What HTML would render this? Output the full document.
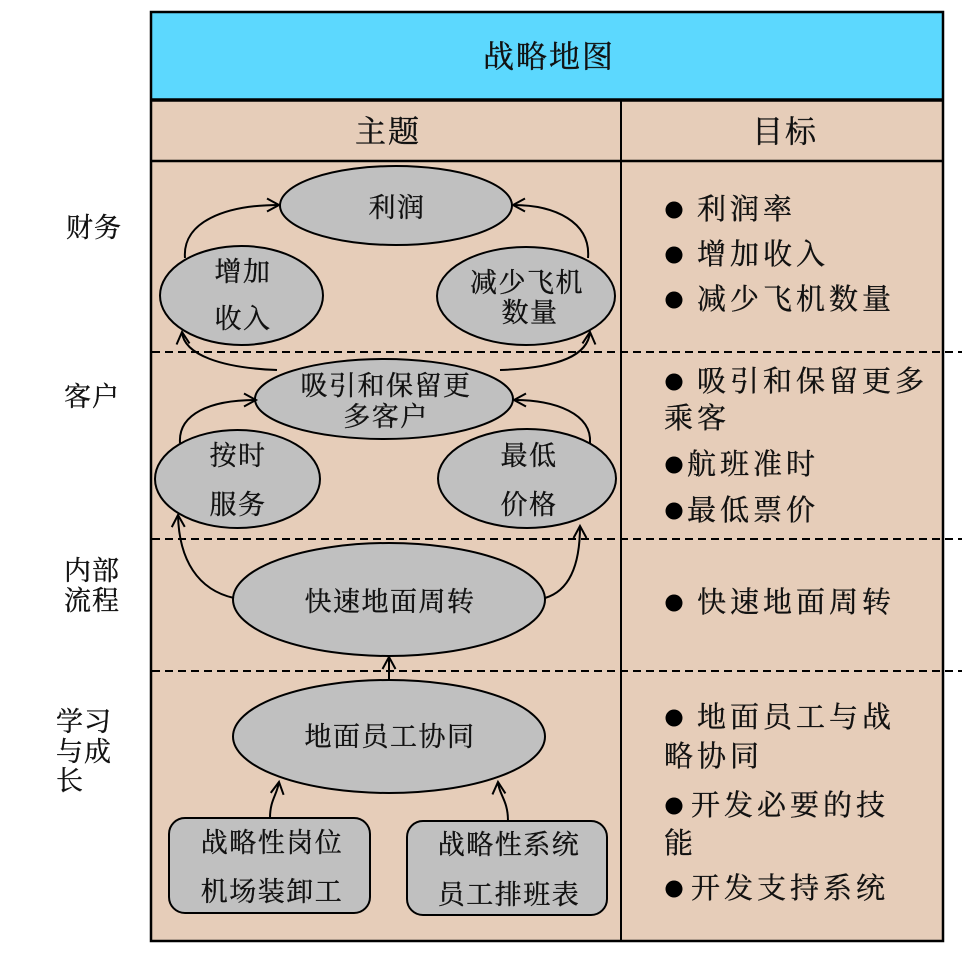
<!DOCTYPE html>
<html><head><meta charset="utf-8"><style>
html,body{margin:0;padding:0;background:#fff;}
svg{display:block;}
text{font-family:"Liberation Serif","Noto Serif CJK SC",serif;fill:#111;stroke:#111;stroke-width:0.35px;}
.e{font-size:27px;letter-spacing:1.5px;text-anchor:middle;dominant-baseline:central;}
.l{font-size:27px;letter-spacing:1px;dominant-baseline:central;}
.r{font-size:29px;letter-spacing:4px;dominant-baseline:central;}
.h{font-size:31px;letter-spacing:2px;text-anchor:middle;dominant-baseline:central;}
</style></head><body>
<svg width="962" height="957" viewBox="0 0 962 957" xmlns="http://www.w3.org/2000/svg">
<defs>
<marker id="a" markerUnits="userSpaceOnUse" markerWidth="18" markerHeight="18" viewBox="-15 -9 18 18" refX="0" refY="0" orient="auto">
<path d="M-12,-6.5 L0,0 L-12,6.5" fill="none" stroke="#000" stroke-width="2"/>
</marker>
</defs>
<rect x="0" y="0" width="962" height="957" fill="#fff"/>
<rect x="151" y="12" width="792" height="88" fill="#5cd8fe"/>
<rect x="151" y="100" width="792" height="841" fill="#e6cdb9"/>

<g stroke="#000" stroke-width="2" stroke-dasharray="8,5">
<line x1="152" y1="352" x2="962" y2="352"/>
<line x1="152" y1="539" x2="962" y2="539"/>
<line x1="152" y1="671" x2="962" y2="671"/>
</g>

<line x1="151" y1="100" x2="943" y2="100" stroke="#000" stroke-width="3.5"/>
<line x1="151" y1="161" x2="943" y2="161" stroke="#000" stroke-width="2.5"/>
<line x1="621" y1="100" x2="621" y2="941" stroke="#000" stroke-width="2"/>
<rect x="151" y="12" width="792" height="929" fill="none" stroke="#000" stroke-width="2.5"/>

<text class="h" x="549" y="57">战略地图</text>
<text class="h" x="388" y="132">主题</text>
<text class="h" x="785" y="132">目标</text>

<text class="l" x="66" y="228">财务</text>
<text class="l" x="64" y="397">客户</text>
<text class="l" x="64" y="571">内部</text>
<text class="l" x="64" y="601">流程</text>
<text class="l" x="56" y="722">学习</text>
<text class="l" x="56" y="752">与成</text>
<text class="l" x="56" y="781">长</text>

<g fill="#c0c0c0" stroke="#000" stroke-width="2">
<ellipse cx="396" cy="205.5" rx="116" ry="39.5"/>
<ellipse cx="241.5" cy="295.5" rx="81.5" ry="49.5"/>
<ellipse cx="526" cy="296" rx="89" ry="49"/>
<ellipse cx="384" cy="399" rx="129" ry="40"/>
<ellipse cx="237.5" cy="479" rx="82.5" ry="49"/>
<ellipse cx="527" cy="478.5" rx="89" ry="49.5"/>
<ellipse cx="389" cy="599.5" rx="156" ry="56.5"/>
<ellipse cx="389" cy="736.5" rx="156" ry="56.5"/>
<rect x="169" y="818" width="201" height="95" rx="16" ry="16"/>
<rect x="407" y="821" width="200" height="94" rx="16" ry="16"/>
</g>

<g fill="none" stroke="#000" stroke-width="2" marker-end="url(#a)">
<path d="M185,258 C182,222 225,205 279,205"/>
<path d="M588,258 C591,222 555,205 513,205"/>
<path d="M277,370 C222,368 184,355 182,332"/>
<path d="M500,370 C560,368 588,355 590,332"/>
<path d="M180,443 C178,414 210,400 256,400"/>
<path d="M590,443 C592,414 556,400 514,400"/>
<path d="M234,598 C198,590 179,560 178,515"/>
<path d="M545,598 C572,590 580,560 580,526"/>
<path d="M389,680 L389,657"/>
<path d="M270,818 C270,800 277,795 279,782"/>
<path d="M508,821 C508,800 499,795 498,782"/>
</g>

<text class="e" x="397" y="208">利润</text>
<text class="e" x="243" y="272">增加</text>
<text class="e" x="243" y="319">收入</text>
<text class="e" x="527" y="283">减少飞机</text>
<text class="e" x="530" y="313">数量</text>
<text class="e" x="386" y="386">吸引和保留更</text>
<text class="e" x="386" y="417">多客户</text>
<text class="e" x="238" y="456">按时</text>
<text class="e" x="238" y="505">服务</text>
<text class="e" x="529" y="456">最低</text>
<text class="e" x="529" y="505">价格</text>
<text class="e" x="390" y="602">快速地面周转</text>
<text class="e" x="390" y="737">地面员工协同</text>
<text class="e" x="272" y="843">战略性岗位</text>
<text class="e" x="272" y="892">机场装卸工</text>
<text class="e" x="509" y="845">战略性系统</text>
<text class="e" x="509" y="895">员工排班表</text>

<g fill="#000">
<circle cx="674" cy="210" r="8.5"/>
<circle cx="674" cy="255" r="8.5"/>
<circle cx="674" cy="300" r="8.5"/>
<circle cx="674" cy="382" r="8.5"/>
<circle cx="674" cy="465" r="8.5"/>
<circle cx="674" cy="511" r="8.5"/>
<circle cx="674" cy="603" r="8.5"/>
<circle cx="674" cy="718" r="8.5"/>
<circle cx="674" cy="806" r="8.5"/>
<circle cx="674" cy="889" r="8.5"/>
</g>
<text class="r" x="697" y="210">利润率</text>
<text class="r" x="697" y="255">增加收入</text>
<text class="r" x="697" y="300">减少飞机数量</text>
<text class="r" x="697" y="382">吸引和保留更多</text>
<text class="r" x="664" y="419">乘客</text>
<text class="r" x="687" y="465">航班准时</text>
<text class="r" x="687" y="511">最低票价</text>
<text class="r" x="697" y="603">快速地面周转</text>
<text class="r" x="697" y="718">地面员工与战</text>
<text class="r" x="664" y="757">略协同</text>
<text class="r" x="691" y="806">开发必要的技</text>
<text class="r" x="664" y="844">能</text>
<text class="r" x="691" y="889">开发支持系统</text>
</svg>
</body></html>
